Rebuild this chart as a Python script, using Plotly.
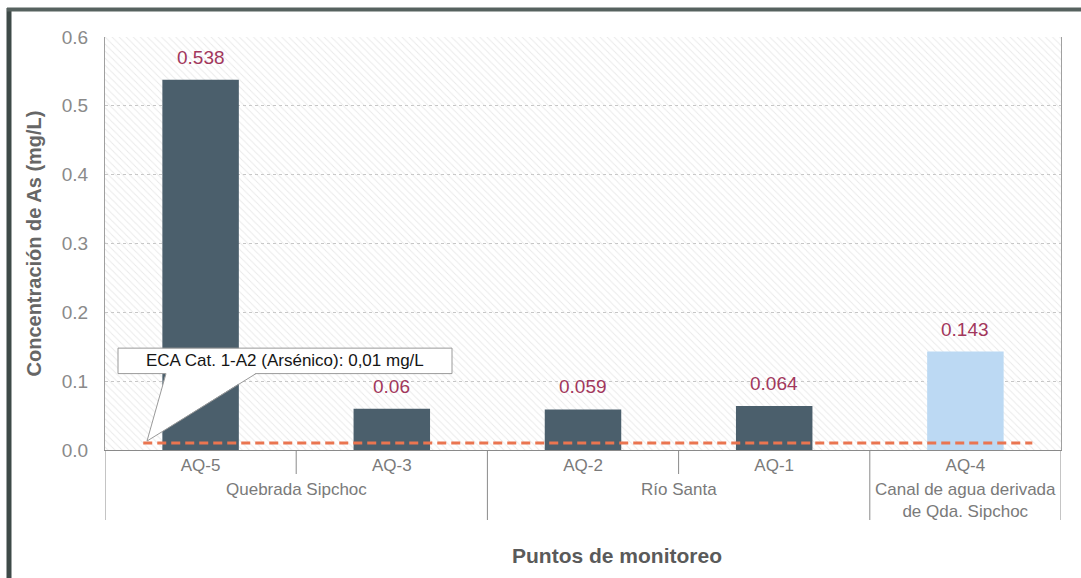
import plotly.graph_objects as go

# Monitoring points, their water body group and arsenic concentrations (mg/L)
puntos = ["AQ-5", "AQ-3", "AQ-2", "AQ-1", "AQ-4"]
grupos = ["Quebrada Sipchoc", "Quebrada Sipchoc", "Río Santa", "Río Santa",
          "Canal de agua derivada<br>de Qda. Sipchoc"]
arsenico = [0.538, 0.06, 0.059, 0.064, 0.143]
etiquetas = ["0.538", "0.06", "0.059", "0.064", "0.143"]
colores = ["#4b5f6c", "#4b5f6c", "#4b5f6c", "#4b5f6c", "#bcd9f3"]
eca_as = 0.01
eca_texto = "ECA Cat. 1-A2 (Arsénico): 0,01 mg/L"

W, H = 1081, 578
ML, MR, MT, MB = 105, 20, 37, 128
plot_w = W - ML - MR
plot_h = H - MT - MB


def px_x(px):
    return (px - ML) / plot_w


def px_y(py):
    return (H - MB - py) / plot_h


FONT = "Liberation Sans, Arial, sans-serif"
GRIS = "#7a7a7a"

fig = go.Figure()

# hatched plot background on a hidden numeric axis (transparent gaps keep the grid visible)
fig.add_trace(go.Scatter(
    x=[0, 1, 1, 0, 0], y=[0, 0, 0.6, 0.6, 0], xaxis="x", yaxis="y",
    mode="lines", line=dict(width=0), fill="toself", fillcolor="rgba(0,0,0,0)",
    fillpattern=dict(shape="\\", fgcolor="#d4d4d4", bgcolor="rgba(255,255,255,0)",
                     size=5, solidity=0.18),
    hoverinfo="skip", showlegend=False,
))

# concentration bars on the category axis
fig.add_trace(go.Bar(
    x=puntos, y=arsenico, xaxis="x2", yaxis="y",
    marker=dict(color=colores, line=dict(width=0)),
    width=0.4, showlegend=False,
))

annotations = []
shapes = []

# value labels above the bars
for p, v, t in zip(puntos, arsenico, etiquetas):
    annotations.append(dict(
        x=p, y=v, xref="x2", yref="y", text=t, showarrow=False,
        yanchor="bottom", yshift=10,
        font=dict(family=FONT, size=19, color="#a2375c"),
    ))

# ECA limit line
shapes.append(dict(
    type="line", xref="x2", yref="y", x0=-0.3, x1=len(puntos) - 0.65,
    y0=eca_as, y1=eca_as,
    line=dict(color="#ea7550", width=3, dash="9px,5px"),
))

# callout box with its pointer to the ECA line
bx0, bx1, by0, by1 = px_x(118) * 5 - 0.5, px_x(452) * 5 - 0.5, 0.111, 0.148
shapes.append(dict(type="rect", xref="x2", yref="y", x0=bx0, x1=bx1, y0=by0, y1=by1,
                   fillcolor="white", line=dict(color="#9a9a9a", width=1)))
tip = (px_x(147) * 5 - 0.5, eca_as + 0.003)
b1 = (px_x(166) * 5 - 0.5, by0)
b2 = (px_x(256) * 5 - 0.5, by0)
shapes.append(dict(
    type="path", xref="x2", yref="y",
    path=f"M {b1[0]},{b1[1] + 0.001} L {tip[0]},{tip[1]} L {b2[0]},{b2[1] + 0.001} Z",
    fillcolor="white", line=dict(width=0),
))
for b in (b1, b2):
    shapes.append(dict(type="line", xref="x2", yref="y", x0=b[0], y0=b[1],
                       x1=tip[0], y1=tip[1], line=dict(color="#9a9a9a", width=1)))
annotations.append(dict(
    x=(bx0 + bx1) / 2, y=(by0 + by1) / 2, xref="x2", yref="y", text=eca_texto,
    showarrow=False, font=dict(family=FONT, size=17, color="#151515"),
))

# category dividers: short ticks inside a group, long ones between groups
n = len(puntos)
for i in range(n + 1):
    borde = i == 0 or i == n or grupos[i - 1] != grupos[i]
    shapes.append(dict(
        type="line", xref="x2", yref="paper", x0=i - 0.5, x1=i - 0.5,
        y0=0, y1=px_y(520) if borde else px_y(474),
        line=dict(color="#8a8a8a", width=1),
    ))

# group labels under the point labels
vistos = []
for g in grupos:
    if g not in vistos:
        vistos.append(g)
for g in vistos:
    idx = [i for i, gg in enumerate(grupos) if gg == g]
    centro = sum(idx) / len(idx)
    annotations.append(dict(
        x=centro, y=px_y(478), xref="x2", yref="paper", text=g, showarrow=False,
        yanchor="top", font=dict(family=FONT, size=17, color=GRIS),
    ))

# x-axis title
annotations.append(dict(
    x=px_x(617), y=px_y(555), xref="paper", yref="paper", yanchor="middle",
    text="<b>Puntos de monitoreo</b>", showarrow=False,
    font=dict(family=FONT, size=21, color="#5a5a5a"),
))

# scanned page frame edges
shapes.append(dict(type="line", xref="paper", yref="paper",
                   x0=px_x(9), x1=px_x(9), y0=px_y(8), y1=px_y(580),
                   line=dict(color="#3e4a48", width=5)))
shapes.append(dict(type="line", xref="paper", yref="paper",
                   x0=px_x(7), x1=px_x(1085), y0=px_y(9.5), y1=px_y(9.5),
                   line=dict(color="#56625f", width=4)))

fig.update_layout(
    width=W, height=H,
    margin=dict(l=ML, r=MR, t=MT, b=MB),
    paper_bgcolor="white", plot_bgcolor="white",
    font=dict(family=FONT, color=GRIS),
    xaxis=dict(range=[0, 1], visible=False, fixedrange=True),
    xaxis2=dict(
        type="category", overlaying="x", range=[-0.5, n - 0.5],
        showgrid=False, ticks="", showline=True, linecolor="#8a8a8a",
        mirror=False, tickfont=dict(family=FONT, size=17, color=GRIS),
        side="bottom", zeroline=False,
    ),
    yaxis=dict(
        range=[0, 0.6], dtick=0.1, tickformat=".1f",
        showgrid=True, gridcolor="#c6c6c6", griddash="dot", gridwidth=1,
        zeroline=False, showline=True, linecolor="#a0a0a0", mirror=True,
        ticks="", ticklen=0, ticklabelstandoff=12,
        tickfont=dict(family=FONT, size=19, color="#8a8a8a"),
        title=dict(text="<b>Concentración de As (mg/L)</b>",
                   font=dict(family=FONT, size=20, color="#666666"), standoff=14),
    ),
    bargap=0.6,
    annotations=annotations,
    shapes=shapes,
)

fig.write_html("out.html")
